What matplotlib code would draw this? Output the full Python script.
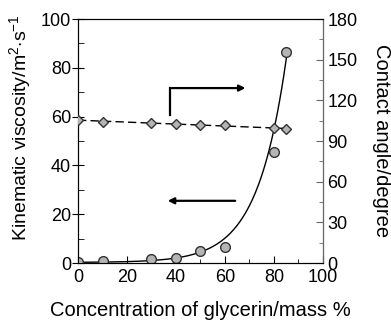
import numpy as np
import matplotlib
matplotlib.use("Agg")
import matplotlib.pyplot as plt

plt.rcParams['font.family'] = ['Liberation Sans', 'DejaVu Sans']
plt.rcParams['mathtext.fontset'] = 'custom'
plt.rcParams['mathtext.rm'] = 'Liberation Sans'
plt.rcParams['mathtext.it'] = 'Liberation Sans:italic'

# glycerin concentration (mass %)
conc = [0, 10, 30, 40, 50, 60, 80, 85]
# kinematic viscosity (left axis)
visc = [0.3, 0.7, 1.5, 2.2, 5.0, 6.5, 45.5, 86.5]
# contact angle (right axis, degree)
angle = [105.5, 104.0, 103.5, 102.5, 102.0, 101.8, 99.6, 98.6]

# exponential trend curve drawn in the figure: c + a*exp(b*x)
fit_a = 0.0607
fit_b = 0.085
fit_c = 0.25

fig = plt.figure(figsize=(3.91, 3.2), dpi=100)
ax = fig.add_axes([0.1995, 0.178, 0.6265, 0.7626])
ax2 = ax.twinx()

# viscosity: trend curve + markers
xf = np.linspace(0, 85.3, 200)
ax.plot(xf, fit_c + fit_a*np.exp(fit_b*xf), color='k', lw=1.0, zorder=2)
ax.plot(conc, visc, 'o', ms=7, mfc='#b4b4b4', mec='#333333', mew=1.0, zorder=3)

# contact angle: linear fit, dashed
pa = np.polyfit(conc, angle, 1)
ax2.plot(xf, np.polyval(pa, xf), color='k', lw=1.0, dashes=(6, 3), zorder=2)
ax2.plot(conc, angle, 'D', ms=5.5, mfc='#b4b4b4', mec='#333333', mew=1.0, zorder=3)

# arrows showing which axis each curve belongs to
ax.plot([37.6, 37.6], [60.7, 71.7], color='k', lw=1.6)
ax.annotate('', xy=(69.5, 71.7), xytext=(37.0, 71.7),
            arrowprops=dict(arrowstyle='-|>', color='k', lw=1.6, mutation_scale=9))
ax.annotate('', xy=(35.5, 25.5), xytext=(65.3, 25.5),
            arrowprops=dict(arrowstyle='-|>', color='k', lw=1.6, mutation_scale=9))

ax.set_xlim(0, 100)
ax.set_ylim(0, 100)
ax2.set_ylim(0, 180)
ax.set_xticks(np.arange(0, 101, 20))
ax.set_xticks(np.arange(10, 100, 20), minor=True)
ax.set_yticks(np.arange(0, 101, 20))
ax.set_yticks(np.arange(10, 100, 20), minor=True)
ax2.set_yticks(np.arange(0, 181, 30))
ax2.set_yticks(np.arange(15, 180, 30), minor=True)

ax.tick_params(axis='x', which='both', direction='in', labelsize=13, pad=4)
ax.tick_params(axis='x', which='major', length=5)
ax.tick_params(axis='x', which='minor', length=3)
ax.tick_params(axis='y', which='major', direction='inout', length=8, labelsize=13, pad=1)
ax.tick_params(axis='y', which='minor', direction='in', length=4)
ax2.tick_params(axis='y', which='major', direction='in', length=5, labelsize=13, pad=3,
                color='#666666')
ax2.tick_params(axis='y', which='minor', direction='in', length=3, color='#666666')
ax2.spines['right'].set_color('#666666')

ax.set_xlabel('Concentration of glycerin/mass %', fontsize=14.5, labelpad=11)
ax.set_ylabel(r'Kinematic viscosity/m$^2$$\cdot$s$^{-1}$', fontsize=14)
ax.yaxis.set_label_coords(-0.185, 0.553)
ax2.set_ylabel('Contact angle/degree', fontsize=14.5, rotation=270, labelpad=24)

plt.savefig('out.png', dpi=100)
